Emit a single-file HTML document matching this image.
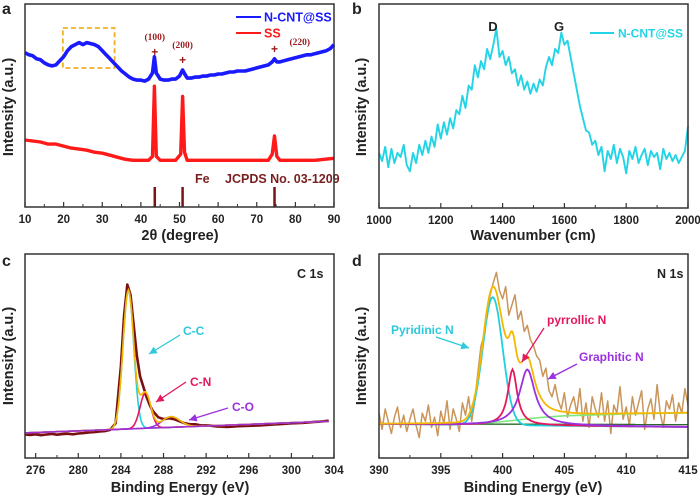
<!DOCTYPE html>
<html><head><meta charset="utf-8"><style>
body{margin:0;background:#fff;}
svg{display:block;font-family:"Liberation Sans",Arial,sans-serif;}
.tk{font-size:11.5px;font-weight:bold;fill:#222;}
.ttl{font-size:14.5px;font-weight:bold;fill:#222;}
.plet{font-size:16px;font-weight:bold;fill:#222;}
</style></head><body>
<svg id="fig" width="700" height="499" viewBox="0 0 700 499" xmlns="http://www.w3.org/2000/svg">
<defs>
<marker id="ahC" markerWidth="8" markerHeight="8" refX="6" refY="3" orient="auto"><path d="M0,0 L6,3 L0,6 z" fill="#2cc9dc"/></marker>
<marker id="ahP" markerWidth="8" markerHeight="8" refX="6" refY="3" orient="auto"><path d="M0,0 L6,3 L0,6 z" fill="#e5175f"/></marker>
<marker id="ahV" markerWidth="8" markerHeight="8" refX="6" refY="3" orient="auto"><path d="M0,0 L6,3 L0,6 z" fill="#9b30e0"/></marker>
</defs>
<g id="layer"></g>
</svg>
<script>
// ---------- Panel a (XRD) ----------
const aBlueX=[10,11,12,13,14,15,16,17,18,19,20,21,22,23,24,25,26,27,28,29,30,31,32,33,34,35,36,37,38,39,40,41,42,43,43.5,44,45,46,47,48,49,50,50.8,51.5,52,53,54,55,56,57,58,59,60,61,62,63,64,65,66,67,68,69,70,71,72,73,74,74.6,75.2,76,77,78,79,80,81,82,83,84,85,86,87,88,89,90];
const aBlueY=[76,75,74.5,73,72.5,71,70,69.5,70,72,74,77,79,80,81,80,81,80.5,80,79,77,75,73,71,69,67,65.5,64,63,62.5,62.5,62,63,66,74,66,63,62.5,62.5,63,63,64.5,67.5,65,63.5,63.5,64,64,64.5,64.5,65,65,65.5,65.5,66,66.5,66.5,67,67,67,67.5,68,68.5,69,69.5,70,71.5,73,71.5,71.5,72,72.5,73,73.5,74,74.5,75,75,75.5,76,76.5,77,78,80];
const aRedX=[10,12,14,16,18,20,22,24,26,28,30,32,34,36,38,40,42,43,43.5,44,45,47,49,50.3,50.8,51.3,52,55,60,65,70,73,74,74.6,75.2,76,80,85,90];
const aRedY=[33,32.5,32,31,31,30,29,28.5,28,27,26.5,25.5,24.5,23.5,23,23,23,25,59.5,25,23,23,23,26,54.5,27,23,23,23,23,23,23,26,35,25,23,23,23,24];
const aRefPos=[43.6,50.8,74.6];
const aTicks=[10,20,30,40,50,60,70,80,90];
// ---------- Panel b (Raman) ----------
const bX=[];for(let i=0;i<=100;i++)bX.push(1000+i*10);
const bY=[27,23,30,20,29,22,27,25,31,21,18,27,22,31,26,33,27,35,30,41,34,42,36,44,39,48,46,55,49,60,58,70,64,72,68,78,73,80,88,74,77,70,74,66,68,60,65,58,62,56,61,57,63,60,69,74,70,78,76,86,80,82,74,66,58,50,44,38,37,31,33,26,30,18,28,24,31,22,29,25,17,28,24,30,22,26,29,21,28,25,27,19,29,24,27,23,26,22,25,28,40];
const bTicks=[1000,1200,1400,1600,1800,2000];
// ---------- Panel c (C 1s) ----------
const cRawX=[275,275.5,276,276.5,277,277.5,278,278.5,279,279.5,280,280.5,281,281.5,282,282.5,283,283.5,284,284.3,284.6,284.9,285.2,285.5,285.8,286.1,286.4,286.7,287,287.5,288,288.5,289,289.5,290,290.5,291,291.5,292,292.5,293,294,295,296,297,298,299,300,301,302,303,303.5];
const cRawY=[11.5,11.3,11.6,11.2,11.5,11.8,11.4,11.7,11.9,11.6,12,12.2,12.5,12.7,13,13.2,13.8,17,45,70,85,80,65,50,40,35,30,26,23,20,19,19.5,19,18,17,16.5,16.5,16,16,15.8,15.5,15.2,15.6,15.8,16,16.3,16.6,17,17.2,17.6,18,18.3];
const cPeakCenter=[284.7,286.3,288.7];
const cPeakAmp=[68,17.4,5.2];
const cPeakSigma=[0.5,0.5,0.85];
const cBgEnds=[12.3,18.1];
const cTicks=[276,280,284,288,292,296,300,304];
// ---------- Panel d (N 1s) ----------
const dRawY=[22,14,24,18,12,20,25,15,21,13,19,24,16,10,22,18,26,15,20,11,23,17,28,14,24,19,13,27,21,30,18,28,42,55,60,72,80,86,91,82,78,84,70,75,80,68,72,62,65,58,55,50,48,40,44,33,30,36,28,24,32,20,26,30,22,34,18,27,15,30,24,20,32,18,28,12,26,22,35,19,25,16,30,21,27,33,14,24,29,19,36,22,15,28,24,31,18,27,22,34,26];
const dPeakCenter=[399.2,400.8,402.0];
const dPeakAmp=[62.7,27.4,27.4];
const dPeakWidth=[0.8,0.45,0.75];
const dGreenX=[390,397,399,401,403,405,410,415];
const dGreenY=[16.7,16.7,17.3,18.5,19.8,20.7,21.6,22.1];
const dPinkBase=[16.7,15.2];
const dTicks=[390,395,400,405,410,415];

const NS="http://www.w3.org/2000/svg";
const L=document.getElementById('layer');
function mk(tag,attrs,parent){const e=document.createElementNS(NS,tag);for(const k in attrs)e.setAttribute(k,attrs[k]);(parent||L).appendChild(e);return e;}
function txt(x,y,s,attrs){const e=mk('text',Object.assign({x:x,y:y},attrs||{}));e.textContent=s;return e;}
function panel(x0,x1,y0,y1,xmin,xmax){return {sx:v=>x0+(v-xmin)/(xmax-xmin)*(x1-x0),sy:v=>y1-v/100*(y1-y0),x0,x1,y0,y1};}
function pathOf(P,xs,ys){return xs.map((x,i)=>(i?'L':'M')+P.sx(x).toFixed(1)+','+P.sy(ys[i]).toFixed(1)).join(' ');}
function frame(P,name){const r=mk('rect',{x:P.x0,y:P.y0,width:P.x1-P.x0,height:P.y1-P.y0,fill:'none',stroke:'#333','stroke-width':1.5});
}
function xaxis(P,ticks,name){
  const g=mk('g',{});
  for(let i=0;i<ticks.length;i++){
    const X=P.sx(ticks[i]);
    mk('line',{x1:X,x2:X,y1:P.y1,y2:P.y1-5,stroke:'#333','stroke-width':1.2},g);
    const t=txt(X,P.y1+16,String(ticks[i]),{'text-anchor':'middle',class:'tk'});g.appendChild(t);
    if(i<ticks.length-1){const m=P.sx((ticks[i]+ticks[i+1])/2);mk('line',{x1:m,x2:m,y1:P.y1,y2:P.y1-3,stroke:'#333','stroke-width':1},g);}
  }
}
function ylabel(x,y,name){const t=txt(0,0,'Intensity (a.u.)',{class:'ttl',transform:'translate('+x+','+y+') rotate(-90)','text-anchor':'middle'});
}
function gauss(x,c,a,s){return a*Math.exp(-0.5*((x-c)/s)**2);}
function lor(x,c,a,w){return a/(1+((x-c)/w)**2);}

// ===== Panel a =====
const A=panel(25,334,4,207,10,90);
let e;
e=txt(2,14,'a',{class:'plet'});
e=mk('rect',{x:A.sx(19.8),y:28,width:A.sx(33.2)-A.sx(19.8),height:40,fill:'none',stroke:'#f0b020','stroke-width':1.8,'stroke-dasharray':'5,3'});

e=mk('path',{d:pathOf(A,aBlueX,aBlueY),fill:'none',stroke:'#1a1aff','stroke-width':3.6,'stroke-linejoin':'round'});

e=mk('path',{d:pathOf(A,aRedX,aRedY),fill:'none',stroke:'#ff1a1a','stroke-width':3.4,'stroke-linejoin':'round'});

for(const p of aRefPos){e=mk('line',{x1:A.sx(p),x2:A.sx(p),y1:187,y2:207,stroke:'#7a1414','stroke-width':2.5});
}
const ann=[['(100)',43.6,40,52],['(200)',50.8,48,60],['(220)',74.6,45,49]];
for(const [s,p,ty,my] of ann){
  e=txt(p===74.6?A.sx(p)+15:A.sx(p),ty,s,{'text-anchor':p===74.6?'start':'middle','font-family':'"Liberation Serif",serif','font-size':'9.5px','font-weight':'bold',fill:'#9a1b1b'});
  
  e=txt(A.sx(p),my+4,'+',{'text-anchor':'middle','font-size':'12px','font-weight':'bold',fill:'#9a1b1b'});
  
}
e=txt(195,183,'Fe',{'font-size':'12.5px','font-weight':'bold',fill:'#7a1f1f'});
e=txt(225,183,'JCPDS No. 03-1209',{'font-size':'12.5px','font-weight':'bold',fill:'#7a1f1f'});
e=mk('line',{x1:236,x2:261,y1:17,y2:17,stroke:'#1a1aff','stroke-width':2});
e=txt(264,21.5,'N-CNT@SS',{'font-size':'12.5px','font-weight':'bold',fill:'#1a1aff'});
e=mk('line',{x1:236,x2:261,y1:33,y2:33,stroke:'#ff1a1a','stroke-width':2});
e=txt(264,37.5,'SS',{'font-size':'12.5px','font-weight':'bold',fill:'#ff1a1a'});
frame(A,'panel-a');xaxis(A,aTicks,'panel-a');ylabel(13,107,'panel-a');
e=txt(180,240,'2θ (degree)',{class:'ttl','text-anchor':'middle'});

// ===== Panel b =====
const B=panel(379,688,4,208,1000,2000);
e=txt(352,14,'b',{class:'plet'});
e=mk('path',{d:pathOf(B,bX,bY),fill:'none',stroke:'#22d4e6','stroke-width':1.9,'stroke-linejoin':'round'});

e=txt(493,31,'D',{'font-size':'13px','font-weight':'bold',fill:'#222','text-anchor':'middle'});
e=txt(559,31,'G',{'font-size':'13px','font-weight':'bold',fill:'#222','text-anchor':'middle'});
e=mk('line',{x1:590,x2:614,y1:33,y2:33,stroke:'#22d4e6','stroke-width':2});
e=txt(618,37.5,'N-CNT@SS',{'font-size':'12px','font-weight':'bold',fill:'#22d4e6'});
frame(B,'panel-b');xaxis(B,bTicks,'panel-b');ylabel(366,107,'panel-b');
e=txt(533,240,'Wavenumber (cm)',{class:'ttl','text-anchor':'middle'});

// ===== Panel c =====
const C=panel(25,334,254,458,275,304);
e=txt(2,266,'c',{class:'plet'});
const cFine=[];for(let x=275;x<=303.5001;x+=0.1)cFine.push(+x.toFixed(2));
const cBg=x=>cBgEnds[0]+(x-275)/29*(cBgEnds[1]-cBgEnds[0]);
e=mk('path',{d:pathOf(C,cRawX,cRawY),fill:'none',stroke:'#7a1010','stroke-width':2.6,'stroke-linejoin':'round'});

const cCols=['#1fd0de','#e5175f','#9b30e0'];const cNames=['cc-fit-peak','cn-fit-peak','co-fit-peak'];
for(let k=0;k<3;k++){
  e=mk('path',{d:pathOf(C,cFine,cFine.map(x=>cBg(x)+gauss(x,cPeakCenter[k],cPeakAmp[k],cPeakSigma[k]))),fill:'none',stroke:cCols[k],'stroke-width':1.6});
  
}
e=mk('path',{d:pathOf(C,cFine,cFine.map(x=>{let s=cBg(x);for(let k=0;k<3;k++)s+=gauss(x,cPeakCenter[k],cPeakAmp[k],cPeakSigma[k]);return s;})),fill:'none',stroke:'#f5b800','stroke-width':1.6});

e=mk('path',{d:pathOf(C,[275,303.5],[cBgEnds[0],cBg(303.5)]),fill:'none',stroke:'#a030d0','stroke-width':1.6});

e=txt(183,335,'C-C',{'font-size':'12px','font-weight':'bold',fill:'#2cc9dc'});
e=mk('line',{x1:180,y1:335,x2:149,y2:354,stroke:'#2cc9dc','stroke-width':1.3,'marker-end':'url(#ahC)'});
e=txt(190,386,'C-N',{'font-size':'12px','font-weight':'bold',fill:'#e5175f'});
e=mk('line',{x1:186,y1:382,x2:156,y2:402,stroke:'#e5175f','stroke-width':1.3,'marker-end':'url(#ahP)'});
e=txt(232,411,'C-O',{'font-size':'12px','font-weight':'bold',fill:'#9b30e0'});
e=mk('line',{x1:228,y1:408,x2:189,y2:420,stroke:'#9b30e0','stroke-width':1.3,'marker-end':'url(#ahV)'});
e=txt(297,278,'C 1s',{'font-size':'12.5px','font-weight':'bold',fill:'#222'});
frame(C,'panel-c');xaxis(C,cTicks,'panel-c');ylabel(13,356,'panel-c');
e=txt(180,492,'Binding Energy (eV)',{class:'ttl','text-anchor':'middle'});

// ===== Panel d =====
const D=panel(379,688,254,458,390,415);
e=txt(352,266,'d',{class:'plet'});
const dRawX=dRawY.map((_,i)=>390+i*0.25);
e=mk('path',{d:pathOf(D,dRawX,dRawY),fill:'none',stroke:'#c9955a','stroke-width':1.5,'stroke-linejoin':'round'});

const dFine=[];for(let x=390;x<=415.0001;x+=0.1)dFine.push(+x.toFixed(2));
function interp(xs,ys,x){for(let i=0;i<xs.length-1;i++){if(x<=xs[i+1]){const t=(x-xs[i])/(xs[i+1]-xs[i]);return ys[i]+t*(ys[i+1]-ys[i]);}}return ys[ys.length-1];}
const dPk=(k,x)=>k===0?gauss(x,dPeakCenter[k],dPeakAmp[k],dPeakWidth[k]):lor(x,dPeakCenter[k],dPeakAmp[k],dPeakWidth[k]);
const dPinkB=x=>dPinkBase[0]+(x-390)/25*(dPinkBase[1]-dPinkBase[0]);
e=mk('path',{d:pathOf(D,[390,415],[dGreenY[0],dGreenY[0]-0.3]),fill:'none',stroke:'#2a6a2a','stroke-width':1.4});

e=mk('path',{d:pathOf(D,dGreenX,dGreenY),fill:'none',stroke:'#7ee87e','stroke-width':1.6});

const dCols=['#1fd0de','#e5175f','#9b30e0'];const dNames=['pyridinic-fit-peak','pyrrolic-fit-peak','graphitic-fit-peak'];
for(let k=0;k<3;k++){
  e=mk('path',{d:pathOf(D,dFine,dFine.map(x=>dPinkB(x)+dPk(k,x))),fill:'none',stroke:dCols[k],'stroke-width':1.8});
  
}
e=mk('path',{d:pathOf(D,dFine,dFine.map(x=>{let s=interp(dGreenX,dGreenY,x);for(let k=0;k<3;k++)s+=dPk(k,x);return s;})),fill:'none',stroke:'#f5b800','stroke-width':1.8});

e=txt(391,334,'Pyridinic N',{'font-size':'12px','font-weight':'bold',fill:'#2cc9dc'});
e=mk('line',{x1:436,y1:337,x2:469,y2:348,stroke:'#2cc9dc','stroke-width':1.3,'marker-end':'url(#ahC)'});
e=txt(547,324,'pyrrollic N',{'font-size':'12px','font-weight':'bold',fill:'#e5175f'});
e=mk('line',{x1:544,y1:328,x2:522,y2:362,stroke:'#e5175f','stroke-width':1.3,'marker-end':'url(#ahP)'});
e=txt(579,361,'Graphitic N',{'font-size':'12px','font-weight':'bold',fill:'#9b30e0'});
e=mk('line',{x1:577,y1:364,x2:548,y2:379,stroke:'#9b30e0','stroke-width':1.3,'marker-end':'url(#ahV)'});
e=txt(657,278,'N 1s',{'font-size':'12.5px','font-weight':'bold',fill:'#222'});
frame(D,'panel-d');xaxis(D,dTicks,'panel-d');ylabel(366,356,'panel-d');
e=txt(533,492,'Binding Energy (eV)',{class:'ttl','text-anchor':'middle'});
</script>
</body></html>
